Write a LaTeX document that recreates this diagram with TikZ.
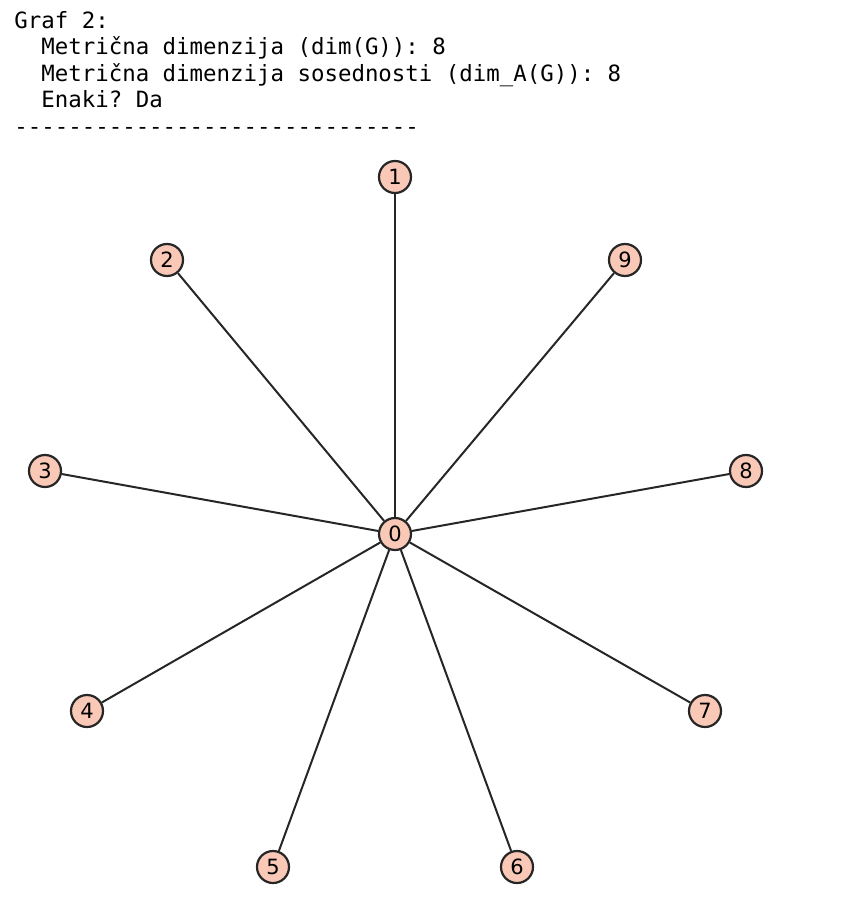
\documentclass[tikz,border=0pt]{standalone}
\usepackage{fontspec}
\setmonofont{DejaVu Sans Mono}
\setsansfont{DejaVu Sans}
\definecolor{vrhbarva}{HTML}{F9C8B6}
\definecolor{robbarva}{HTML}{262626}

\tikzset{
    vrh/.style={circle, draw=robbarva, line width=1.1pt, fill=vrhbarva,
        minimum size=16pt, inner sep=0pt, font=\sffamily\fontsize{10.5}{10.5}\selectfont},
    rob/.style={draw=robbarva, line width=1pt}
}

\begin{document}
\begin{tikzpicture}[x=0.5pt, y=-0.5pt]
        \useasboundingbox (0,0) rectangle (856,904);

        % izpis (bazna črta zadnje vrstice)
        \node[anchor=base west, align=left, inner sep=0pt,
            font=\ttfamily\fontsize{11.2}{13.25}\selectfont] (izpis) at (14,134)
            {Graf 2:\\
            \ \ Metrična dimenzija (dim(G)): 8\\
            \ \ Metrična dimenzija sosednosti (dim\_A(G)): 8\\
            \ \ Enaki? Da\\
            ------------------------------};

        % vrhovi
        \node[vrh] (v0) at (395,534) {0};
        \node[vrh] (v1) at (395,177) {1};
        \node[vrh] (v2) at (167,260) {2};
        \node[vrh] (v3) at (45,471) {3};
        \node[vrh] (v4) at (87,711) {4};
        \node[vrh] (v5) at (273,867) {5};
        \node[vrh] (v6) at (517,867) {6};
        \node[vrh] (v7) at (705,711) {7};
        \node[vrh] (v8) at (746,471) {8};
        \node[vrh] (v9) at (625,260) {9};

        % povezave
        \foreach \i in {1,...,9}
            \draw[rob] (v0) -- (v\i);

    \end{tikzpicture}
\end{document}
